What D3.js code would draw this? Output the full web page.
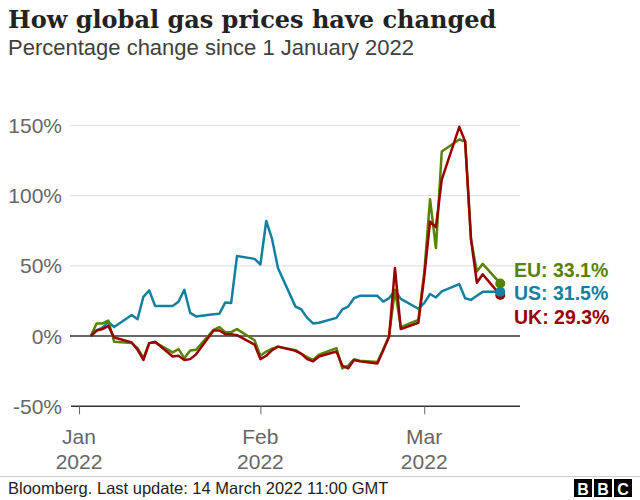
<!DOCTYPE html>
<html>
<head>
<meta charset="utf-8">
<script src="https://cdn.jsdelivr.net/npm/d3@7"></script>
<style>
  html, body { margin: 0; padding: 0; background: #fff; }
  svg { display: block; }
</style>
</head>
<body>
<svg id="chart" width="640" height="500"></svg>
<script>
// ---------- DATA ----------
const dates = [
  "2022-01-03","2022-01-04","2022-01-05","2022-01-06","2022-01-07",
  "2022-01-10","2022-01-11","2022-01-12","2022-01-13","2022-01-14",
  "2022-01-17","2022-01-18","2022-01-19","2022-01-20","2022-01-21",
  "2022-01-24","2022-01-25","2022-01-26","2022-01-27","2022-01-28",
  "2022-01-31","2022-02-01","2022-02-02","2022-02-03","2022-02-04",
  "2022-02-07","2022-02-08","2022-02-09","2022-02-10","2022-02-11",
  "2022-02-14","2022-02-15","2022-02-16","2022-02-17","2022-02-18",
  "2022-02-21","2022-02-22","2022-02-23","2022-02-24","2022-02-25",
  "2022-02-28","2022-03-01","2022-03-02","2022-03-03","2022-03-04",
  "2022-03-07","2022-03-08","2022-03-09","2022-03-10","2022-03-11",
  "2022-03-14"
];
const usValues = [
  0, 4, 6, 10, 6.5,
  15, 12, 28, 32.5, 21.5,
  21.5, 24.5, 33, 16.5, 14,
  15.5, 16, 24, 23.5, 57,
  55, 51, 82, 69, 48.5,
  21, 19, 13, 9, 9.5,
  13, 19, 21, 27, 28.7,
  28.7, 24.6, 27, 32.5, 26.5,
  19.5, 23.5, 30, 27.5, 31.8,
  37, 27, 25.8, 28.7, 31.5,
  31.5
];
const euValues = [
  0, 9, 9, 11, -4,
  -5, -8.6, -15.7, -5, -4.5,
  -11.6, -9.3, -15.7, -10.2, -9.7,
  4.5, 6.4, 2.8, 2.8, 5,
  -3, -14, -11, -9, -7.5,
  -10, -12.6, -15, -17, -13.3,
  -8.6, -23, -21, -16.5, -17.5,
  -18.5, -9.5, 0.3, 33, 6.4,
  11.6, 45, 97.5, 62.7, 131.5,
  140, 138.6, 69, 46, 51.5,
  37.5
];
const ukValues = [
  0, 4, 5, 7.3, -1,
  -4.5, -9.7, -17, -5, -4,
  -14.5, -14, -17, -16.4, -13,
  4, 4, 1.4, 1.4, 0.7,
  -6, -16.4, -14, -10, -7.5,
  -10.5, -12.6, -16.4, -18, -14.5,
  -11, -21, -23, -17, -18,
  -19.5, -10, -0.5, 48.5, 5,
  9.5, 42, 81.6, 77.6, 111.5,
  149, 138.6, 69, 38, 44,
  29.3
];
const seriesNames = ["US", "EU", "UK"];
const seriesColors = ["#1380A1", "#588300", "#990000"];
const legendLabels = ["EU: 33.1%", "US: 31.5%", "UK: 29.3%"];
const yTicks = [-50, 0, 50, 100, 150];
const xTickDates = ["2022-01-01", "2022-02-01", "2022-03-01"];
const xTickLabels = [["Jan", "2022"], ["Feb", "2022"], ["Mar", "2022"]];
const titleText = "How global gas prices have changed";
const subtitleText = "Percentage change since 1 January 2022";
const sourceText = "Bloomberg. Last update: 14 March 2022 11:00 GMT";

// ---------- CHART ----------
const svg = d3.select("#chart");
const parse = d3.timeParse("%Y-%m-%d");
const sans = "'Liberation Sans', Arial, sans-serif";

const x = d3.scaleTime()
  .domain([new Date(2021, 11, 30, 15), new Date(2022, 2, 17, 9)])
  .range([71, 520]);
const y = d3.scaleLinear().domain([-50, 150]).range([406.3, 125.5]);

// Title & subtitle
svg.append("text").attr("x", 8).attr("y", 28)
  .attr("font-family", "'DejaVu Serif', serif").attr("font-weight", "bold")
  .attr("font-size", 24).attr("fill", "#222").text(titleText);
svg.append("text").attr("x", 8).attr("y", 55)
  .attr("font-family", sans).attr("font-size", 22).attr("fill", "#404040")
  .text(subtitleText);

// Gridlines
const grid = svg.append("g");
yTicks.forEach(t => {
  if (t === -50) return;
  grid.append("line")
    .attr("x1", 70).attr("x2", 520)
    .attr("y1", y(t)).attr("y2", y(t))
    .attr("stroke", t === 0 ? "#333" : "#dcdcdc")
    .attr("stroke-width", t === 0 ? 1.5 : 1);
});

// Y labels
yTicks.forEach(t => {
  svg.append("text").attr("x", 62).attr("y", y(t) + 7.5)
    .attr("text-anchor", "end").attr("font-family", sans)
    .attr("font-size", 21).attr("fill", "#666")
    .text(t + "%");
});

// X axis
const xAxis = d3.axisBottom(x)
  .tickValues(xTickDates.map(parse))
  .tickSize(8).tickFormat("");
const xg = svg.append("g").attr("transform", `translate(0,${y(-50)})`).call(xAxis);
xg.select(".domain").attr("stroke", "#333").attr("stroke-width", 1.5)
  .attr("d", `M${x.range()[0]},0H${x.range()[1]}`);
xg.selectAll(".tick line").attr("stroke", "#666").attr("stroke-width", 1);

xTickDates.forEach((d, i) => {
  const t = svg.append("text").attr("text-anchor", "middle")
    .attr("font-family", sans).attr("font-size", 21).attr("fill", "#666");
  t.append("tspan").attr("x", x(parse(d))).attr("y", 444).text(xTickLabels[i][0]);
  t.append("tspan").attr("x", x(parse(d))).attr("y", 469).text(xTickLabels[i][1]);
});

// Lines
const allValues = [usValues, euValues, ukValues];
const line = d3.line().x(d => x(d[0])).y(d => y(d[1]));
allValues.forEach((vals, i) => {
  const pts = dates.map((d, j) => [parse(d), vals[j]]);
  svg.append("path").datum(pts)
    .attr("d", line).attr("fill", "none")
    .attr("stroke", seriesColors[i]).attr("stroke-width", 2.5)
    .attr("stroke-linejoin", "round");
});

// End dots (UK, EU, then US on top)
[2, 1, 0].forEach(i => {
  const vals = allValues[i];
  svg.append("circle")
    .attr("cx", x(parse(dates[dates.length - 1])))
    .attr("cy", y(vals[vals.length - 1]))
    .attr("r", 5).attr("fill", seriesColors[i]);
});

// Direct labels
const labelOrder = [1, 0, 2];
const labelY = [277, 300, 324];
labelOrder.forEach((si, k) => {
  svg.append("text").attr("x", 514).attr("y", labelY[k])
    .attr("font-family", sans).attr("font-weight", "bold")
    .attr("font-size", 19.5).attr("fill", seriesColors[si])
    .text(legendLabels[k]);
});

// Footer
svg.append("line").attr("x1", 0).attr("x2", 640).attr("y1", 476.5).attr("y2", 476.5)
  .attr("stroke", "#cccccc").attr("stroke-width", 1);
svg.append("text").attr("x", 8).attr("y", 494)
  .attr("font-family", sans).attr("font-size", 16.5).attr("fill", "#222")
  .text(sourceText);
const logo = svg.append("g");
["B", "B", "C"].forEach((ch, i) => {
  const bx = 574 + i * 20;
  logo.append("rect").attr("x", bx).attr("y", 479).attr("width", 18).attr("height", 18).attr("fill", "#000");
  logo.append("text").attr("x", bx + 9).attr("y", 494.5).attr("text-anchor", "middle")
    .attr("font-family", sans).attr("font-weight", "bold").attr("font-size", 16)
    .attr("fill", "#fff").text(ch);
});
</script>
</body>
</html>
